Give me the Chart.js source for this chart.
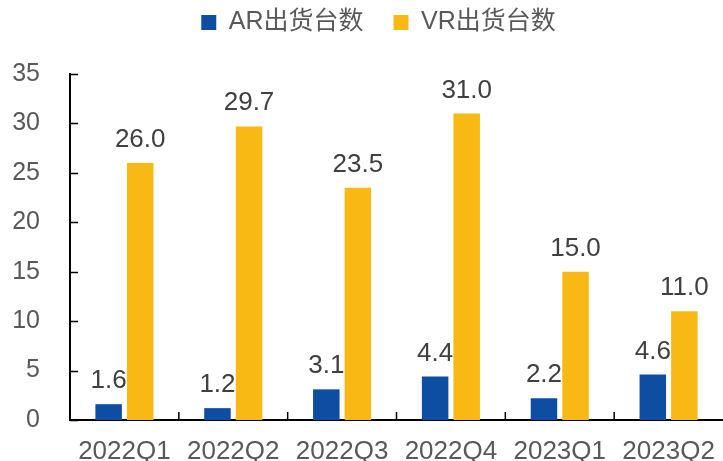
<!DOCTYPE html>
<html>
<head>
<meta charset="utf-8">
<script src="https://cdn.jsdelivr.net/npm/chart.js@4.4.0/dist/chart.umd.min.js"></script>
<style>
  html, body { margin: 0; padding: 0; background: #fff; }
  #wrap { width: 723px; height: 461px; }
</style>
</head>
<body>
<div id="wrap"><canvas id="chart"></canvas></div>
<script>
const quarters = ["2022Q1", "2022Q2", "2022Q3", "2022Q4", "2023Q1", "2023Q2"];
const arShipments = [1.6, 1.2, 3.1, 4.4, 2.2, 4.6];
const vrShipments = [26.0, 29.7, 23.5, 31.0, 15.0, 11.0];
const yTicks = [0, 5, 10, 15, 20, 25, 30, 35];

const textColor = "#595959";
const fontFamily = '"Liberation Sans", Arial, "Noto Sans CJK SC", sans-serif';

// value labels above each bar
const barLabels = {
  id: "barLabels",
  afterDatasetsDraw(chart) {
    const ctx = chart.ctx;
    ctx.save();
    ctx.fillStyle = "#404040";
    ctx.font = "26px " + fontFamily;
    ctx.textAlign = "center";
    ctx.textBaseline = "alphabetic";
    chart.data.datasets.forEach((ds, i) => {
      chart.getDatasetMeta(i).data.forEach((bar, j) => {
        ctx.fillText(ds.data[j].toFixed(1), bar.x, bar.y - 16);
      });
    });
    ctx.restore();
  }
};

// short tick marks pointing into the plot
const innerTicks = {
  id: "innerTicks",
  afterDraw(chart) {
    const ctx = chart.ctx;
    const x = chart.scales.x;
    const y = chart.scales.y;
    ctx.save();
    ctx.strokeStyle = "#000";
    ctx.lineWidth = 1.5;
    ctx.beginPath();
    yTicks.forEach((v) => {
      const py = Math.round(y.getPixelForValue(v)) + 0.5;
      ctx.moveTo(x.left, py);
      ctx.lineTo(x.left + 8, py);
    });
    for (let i = 1; i < quarters.length; i++) {
      const px = (x.getPixelForValue(i - 1) + x.getPixelForValue(i)) / 2;
      ctx.moveTo(px, y.bottom);
      ctx.lineTo(px, y.bottom - 8);
    }
    ctx.stroke();
    ctx.restore();
  }
};

// legend takes the whole band above the plot, items placed like the original
const legendPlace = {
  id: "legendPlace",
  beforeLayout(chart) {
    const lg = chart.legend;
    if (lg && !lg._patched) {
      lg._patched = true;
      const fit = lg.fit.bind(lg);
      lg.fit = function () { fit(); this.height = 74; };
    }
  },
  afterLayout(chart) {
    chart.legend.top = -20;
    chart.legend.left = 34;
  }
};

new Chart(document.getElementById("chart"), {
  type: "bar",
  data: {
    labels: quarters,
    datasets: [
      {
        label: "AR出货台数",
        data: arShipments,
        backgroundColor: "#0D4EA3",
        barPercentage: 0.84,
        categoryPercentage: 0.58
      },
      {
        label: "VR出货台数",
        data: vrShipments,
        backgroundColor: "#F9B914",
        barPercentage: 0.84,
        categoryPercentage: 0.58
      }
    ]
  },
  options: {
    responsive: true,
    maintainAspectRatio: false,
    animation: false,
    layout: { padding: 0 },
    plugins: {
      legend: {
        position: "top",
        labels: {
          boxWidth: 15,
          boxHeight: 15,
          padding: 30,
          color: textColor,
          font: { size: 25, family: fontFamily }
        }
      },
      tooltip: { enabled: false }
    },
    scales: {
      x: {
        grid: { display: false, drawTicks: false },
        border: { display: true, color: "#000", width: 2 },
        ticks: {
          color: textColor,
          padding: 19,
          font: { size: 26, family: fontFamily, lineHeight: 1 }
        },
        afterFit(scale) {
          scale.height = 41;
          scale.paddingLeft = 0;
          scale.paddingRight = 0;
        }
      },
      y: {
        min: 0,
        max: 35,
        grid: { display: false, drawTicks: false },
        border: { display: true, color: "#000", width: 2 },
        ticks: {
          stepSize: 5,
          color: textColor,
          padding: 30,
          font: { size: 25, family: fontFamily }
        },
        afterFit(scale) {
          scale.width = 70;
          scale.paddingTop = 0;
          scale.paddingBottom = 0;
        }
      }
    }
  },
  plugins: [barLabels, innerTicks, legendPlace]
});
</script>
</body>
</html>
